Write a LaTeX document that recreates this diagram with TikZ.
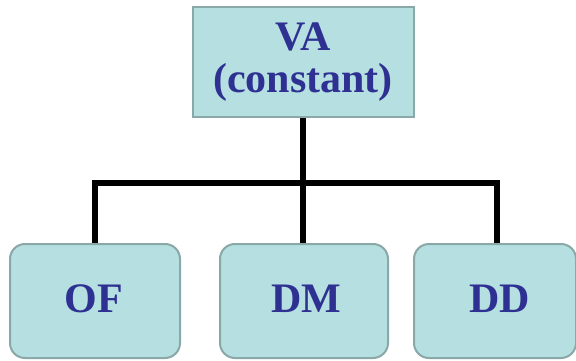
\documentclass[tikz,border=0pt]{standalone}
\usepackage{fontspec}
\setmainfont{Liberation Serif}
\definecolor{boxfill}{HTML}{B5DFE1}
\definecolor{boxline}{HTML}{8AA8A8}
\definecolor{txtblue}{HTML}{2E3192}
\tikzset{
  labfont/.style={text=txtblue, font=\bfseries\fontsize{42}{42}\selectfont},
  topbox/.style={draw=boxline, fill=boxfill, line width=2pt, minimum width=221pt, minimum height=110pt, inner sep=0pt, align=center, labfont},
  leafbox/.style={draw=boxline, fill=boxfill, line width=2pt, rounded corners=15pt, minimum height=114pt, inner sep=0pt},
  conn/.style={line width=6pt, black, line join=miter}
}
\begin{document}
\begin{tikzpicture}[x=1pt,y=1pt]
\useasboundingbox (0,0) rectangle (576,360);
\fill[white] (0,0) rectangle (576,360);
\node[topbox] (va) at (303,298) {VA\\(constant)};
\node[leafbox, minimum width=170pt, anchor=north] (of) at (95,117) {};
\node[leafbox, minimum width=168pt, anchor=north] (dm) at (304,117) {};
\node[leafbox, minimum width=162pt, anchor=north] (dd) at (495,117) {};
\coordinate (hl) at (95,177);
\coordinate (hr) at (497,177);
\draw[conn] (of.north) -- (of.north |- hl) -- (hr) -- (hr |- dd.north);
\draw[conn] (va.south) -- (va.south |- dm.north);
\node[labfont, anchor=base] (oflab) at (94,48) {OF};
\node[labfont, anchor=base] (dmlab) at (306,48) {DM};
\node[labfont, anchor=base] (ddlab) at (500,48) {DD};
\end{tikzpicture}
\end{document}
